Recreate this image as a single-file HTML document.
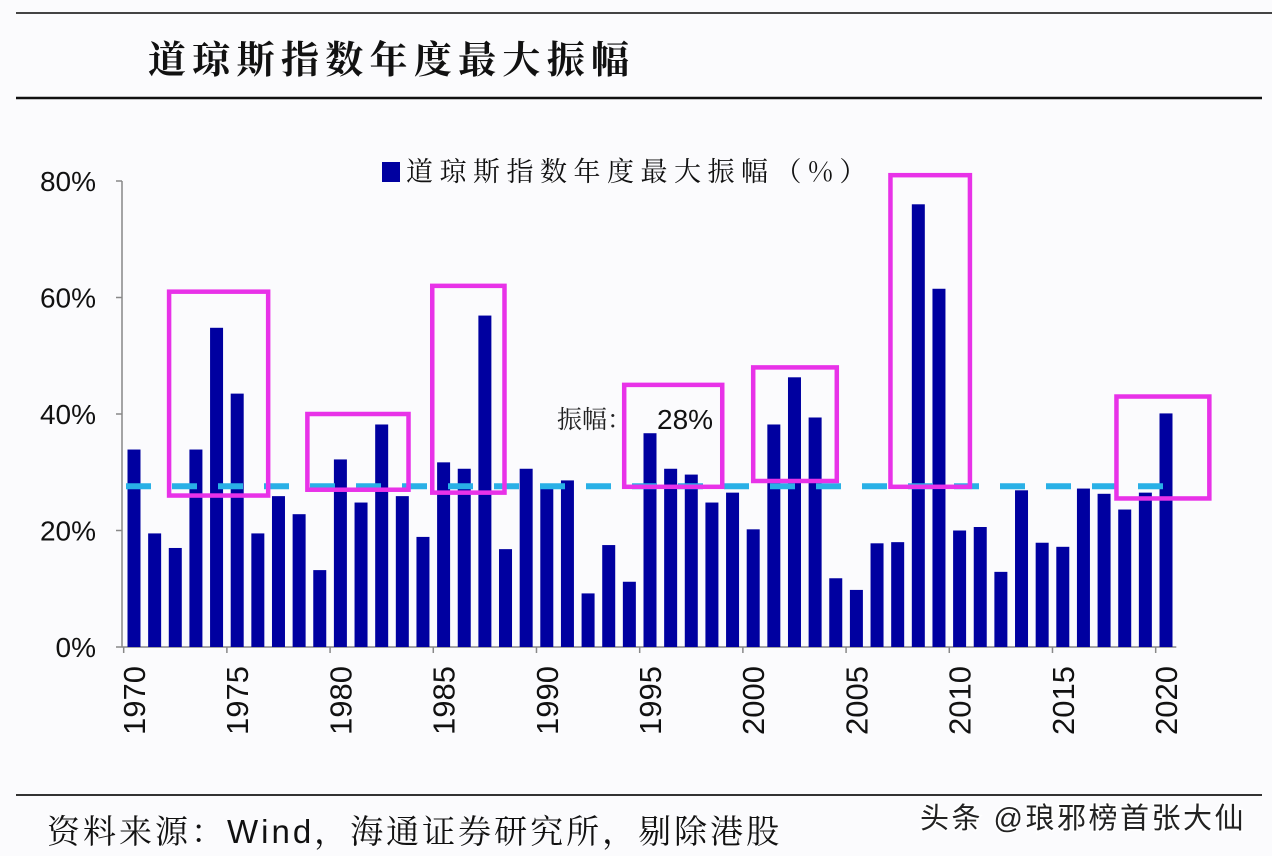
<!DOCTYPE html>
<html><head><meta charset="utf-8">
<style>
html,body{margin:0;padding:0;background:#fbfbfd;}
body{width:1272px;height:856px;overflow:hidden;position:relative;font-family:"Liberation Sans","Noto Sans CJK SC",sans-serif;}
svg{position:absolute;left:0;top:0;}
</style></head>
<body>
<svg id="chart" width="1272" height="856" viewBox="0 0 1272 856">
  <line x1="16" y1="13" x2="1272" y2="13" stroke="#444" stroke-width="2"/>
  <text x="148" y="73" font-family="'Noto Serif CJK SC',serif" font-weight="bold" font-size="38" letter-spacing="6.3" fill="#111">道琼斯指数年度最大振幅</text>
  <line x1="16" y1="98" x2="1262" y2="98" stroke="#111" stroke-width="2.5"/>
  <rect x="382" y="162" width="18" height="20" fill="#0000a0"/>
  <text x="406" y="181" font-family="'Noto Serif CJK SC',serif" font-size="27" letter-spacing="6.5" fill="#111">道琼斯指数年度最大振幅（%）</text>
  <g id="plot"></g>
  <text x="557" y="428" font-family="'Noto Serif CJK SC',serif" font-size="25" fill="#222">振幅：</text>
  <text x="657" y="429" font-family="'Liberation Sans',sans-serif" font-size="28" fill="#111">28%</text>
  <line x1="16" y1="795" x2="1262" y2="795" stroke="#333" stroke-width="2"/>
  <text x="47" y="843" font-family="'Liberation Sans','Noto Serif CJK SC',serif" font-size="33" letter-spacing="3" fill="#111">资料来源：Wind，海通证券研究所，剔除港股</text>
  <text x="920" y="828" font-family="'Liberation Sans','Noto Sans CJK SC',sans-serif" font-size="29" letter-spacing="2.5" fill="#222" stroke="#fff" stroke-width="3" paint-order="stroke">头条 @琅邪榜首张大仙</text>
</svg>
<script>
const years = [];
for (let y = 1970; y <= 2020; y++) years.push(y);
const values = [33.9,19.5,17.0,33.9,54.8,43.5,19.5,25.9,22.8,13.2,32.2,24.8,38.2,25.9,18.9,31.7,30.6,56.9,16.8,30.6,27.2,28.6,9.2,17.5,11.2,36.7,30.6,29.6,24.8,26.5,20.2,38.2,46.3,39.4,11.8,9.8,17.8,18.0,76.0,61.5,20.0,20.6,12.9,26.9,17.9,17.2,27.2,26.3,23.6,26.5,40.1];
const yTicks = [0,20,40,60,80];
const averageValue = 27.6;
const highlightStarts = [1971.7,1978.4,1984.45,1993.75,2000.0,2006.65,2017.6];
const highlightEnds = [1976.5,1983.3,1987.95,1998.5,2004.05,2010.5,2022.1];
const highlightTops = [61,40,62,45,48,81,43];
const highlightBottoms = [26,27,26.5,27.5,28.5,27.5,25.5];

const NS = 'http://www.w3.org/2000/svg';
const g = document.getElementById('plot');
const X0 = 134, DX = 20.64, Y0 = 647, PY = (647 - 181) / 80;
const xs = yr => X0 + (yr - 1970) * DX;
const ys = v => Y0 - v * PY;
function mk(tag, attrs) { const e = document.createElementNS(NS, tag); for (const k in attrs) e.setAttribute(k, attrs[k]); g.appendChild(e); return e; }

let ax = mk('line', {x1:122, y1:ys(80), x2:122, y2:Y0, stroke:'#888', 'stroke-width':1.5});


yTicks.forEach(t => {
  const tk = mk('line', {x1:116, y1:ys(t), x2:122, y2:ys(t), stroke:'#888', 'stroke-width':1.5});
  
  
  const tl = mk('text', {x:96, y:ys(t)+10, 'text-anchor':'end', 'font-size':28, fill:'#111', 'font-family':'Liberation Sans, sans-serif'});
  tl.textContent = t + '%';
  
  
});
let xa = mk('line', {x1:122, y1:Y0, x2:xs(2020)+DX/2, y2:Y0, stroke:'#888', 'stroke-width':1.5});


years.forEach((yr, i) => {
  const r = mk('rect', {x:xs(yr)-6.5, y:ys(values[i]), width:13, height:Y0-ys(values[i]), fill:'#0000a0'});
  
  
  if (yr % 5 === 0) {
    const tk = mk('line', {x1:xs(yr)-DX/2, y1:Y0, x2:xs(yr)-DX/2, y2:Y0+6, stroke:'#888', 'stroke-width':1.5});
    
    
    const lx = xs(yr) + 11, ly = 666;
    const tl = mk('text', {x:lx, y:ly, 'text-anchor':'end', 'font-size':31, fill:'#111', 'font-family':'Liberation Sans, sans-serif', transform:'rotate(-90 ' + lx + ' ' + ly + ')'});
    tl.textContent = yr;
    
    
  }
});
let av = mk('line', {x1:xs(1970)-8, y1:ys(averageValue), x2:xs(2020), y2:ys(averageValue), stroke:'#29b0e6', 'stroke-width':6, 'stroke-dasharray':'25 21'});


highlightStarts.forEach((s, i) => {
  const x1 = xs(s), x2 = xs(highlightEnds[i]);
  const b = mk('rect', {x:x1, y:ys(highlightTops[i]), width:x2-x1, height:ys(highlightBottoms[i])-ys(highlightTops[i]), fill:'none', stroke:'#e832e8', 'stroke-width':4.5});
  
  
});
</script>
</body></html>
